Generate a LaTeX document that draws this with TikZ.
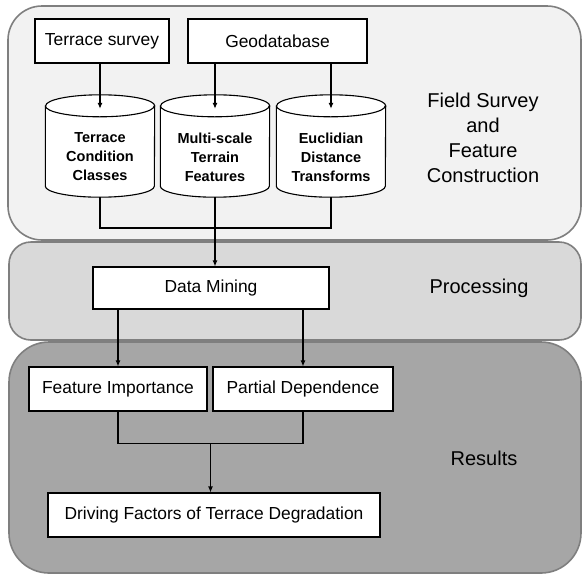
\documentclass[tikz,border=0pt]{standalone}
\usepackage{fontspec}
\setmainfont{Liberation Sans}
\usepackage{xcolor}
\usetikzlibrary{arrows.meta,positioning,shapes.geometric,calc}
\definecolor{panelA}{HTML}{F2F2F2}
\definecolor{panelB}{HTML}{D9D9D9}
\definecolor{panelC}{HTML}{A6A6A6}
\definecolor{panelEdge}{HTML}{7F7F7F}

\begin{document}
\begin{tikzpicture}[x=1pt, y=-1pt,
  font=\fontsize{17.4}{21}\selectfont,
  panel/.style={draw=panelEdge, line width=1.6pt},
  box/.style={draw, fill=white, line width=1.1pt, inner sep=0pt},
  cyl/.style={minimum width=109pt, minimum height=102pt, inner sep=0pt},
  cyltxt/.style={font=\fontsize{14.5}{19}\selectfont\bfseries, align=center},
  lbl/.style={font=\fontsize{20}{25}\selectfont, align=center},
  arr/.style={-{Latex[length=6pt,width=5pt]}, line width=1.1pt},
  ln/.style={line width=1.1pt}]
\useasboundingbox (0,0) rectangle (583,574);
% stage panels
\filldraw[panel, fill=panelA, rounded corners=34pt] (8,6) rectangle (581,240);
\filldraw[panel, fill=panelB, rounded corners=22pt] (9,242) rectangle (581,340);
\filldraw[panel, fill=panelC, rounded corners=40pt] (9,342) rectangle (581,573);
\node[lbl] (fsc) at (483,138) {Field Survey\\and\\Feature\\Construction};
\node[lbl] (proc) at (479,288) {Processing};
\node[lbl] (res) at (484,458) {Results};
% inputs
\node[box, minimum width=134pt, minimum height=44pt] (survey) at (102,41) {Terrace survey};
\node[box, minimum width=179pt, minimum height=44pt] (geo) at (277.5,41) {Geodatabase};
\node[cyl] (tcc) at (100,146) {}; \node[cyl] (mtf) at (215,146) {}; \node[cyl] (edt) at (331,146) {};
\foreach \c in {tcc,mtf,edt}{
  \filldraw[ln, fill=white] ($(\c.north west)+(0,11)$) -- ($(\c.south west)+(0,-11)$)
    arc[start angle=180, end angle=360, x radius=54.5pt, y radius=11pt]
    -- ($(\c.north east)+(0,11)$)
    arc[start angle=0, end angle=180, x radius=54.5pt, y radius=11pt] -- cycle;
  \draw[ln] ($(\c.north west)+(0,11)$) arc[start angle=180, end angle=360, x radius=54.5pt, y radius=11pt];
}
\node[cyltxt] at ([yshift=-11pt]tcc.center) {Terrace\\Condition\\Classes};
\node[cyltxt] at ([yshift=-11pt]mtf.center) {Multi-scale\\Terrain\\Features};
\node[cyltxt] at ([yshift=-11pt]edt.center) {Euclidian\\Distance\\Transforms};
\draw[arr] (survey.south -| tcc) -- ([yshift=-14pt]tcc.north);
\draw[arr] (geo.south -| mtf) -- ([yshift=-14pt]mtf.north);
\draw[arr] (geo.south -| edt) -- ([yshift=-14pt]edt.north);
% processing
\node[box, minimum width=236pt, minimum height=42pt] (mine) at (211,288) {Data Mining};
\coordinate (jn1) at (215,228);
\draw[ln] (tcc.south) |- (jn1) -| (edt.south);
\draw[arr] (mtf.south) -- (mtf.south |- mine.north);
% results
\node[box, minimum width=178pt, minimum height=44pt] (fimp) at (118,389) {Feature Importance};
\node[box, minimum width=180pt, minimum height=44pt] (pdep) at (303,389) {Partial Dependence};
\node[box, minimum width=332pt, minimum height=44pt] (drive) at (214,515) {Driving Factors of Terrace Degradation};
\draw[arr] (mine.south -| fimp) -- (fimp.north);
\draw[arr] (mine.south -| pdep) -- (pdep.north);
\coordinate (jn2) at ($(fimp.south)!0.5!(pdep.south)+(0,32)$);
\draw[ln] (fimp.south) |- (jn2) -| (pdep.south);
\draw[arr] (jn2) -- (jn2 |- drive.north);
\end{tikzpicture}
\end{document}
